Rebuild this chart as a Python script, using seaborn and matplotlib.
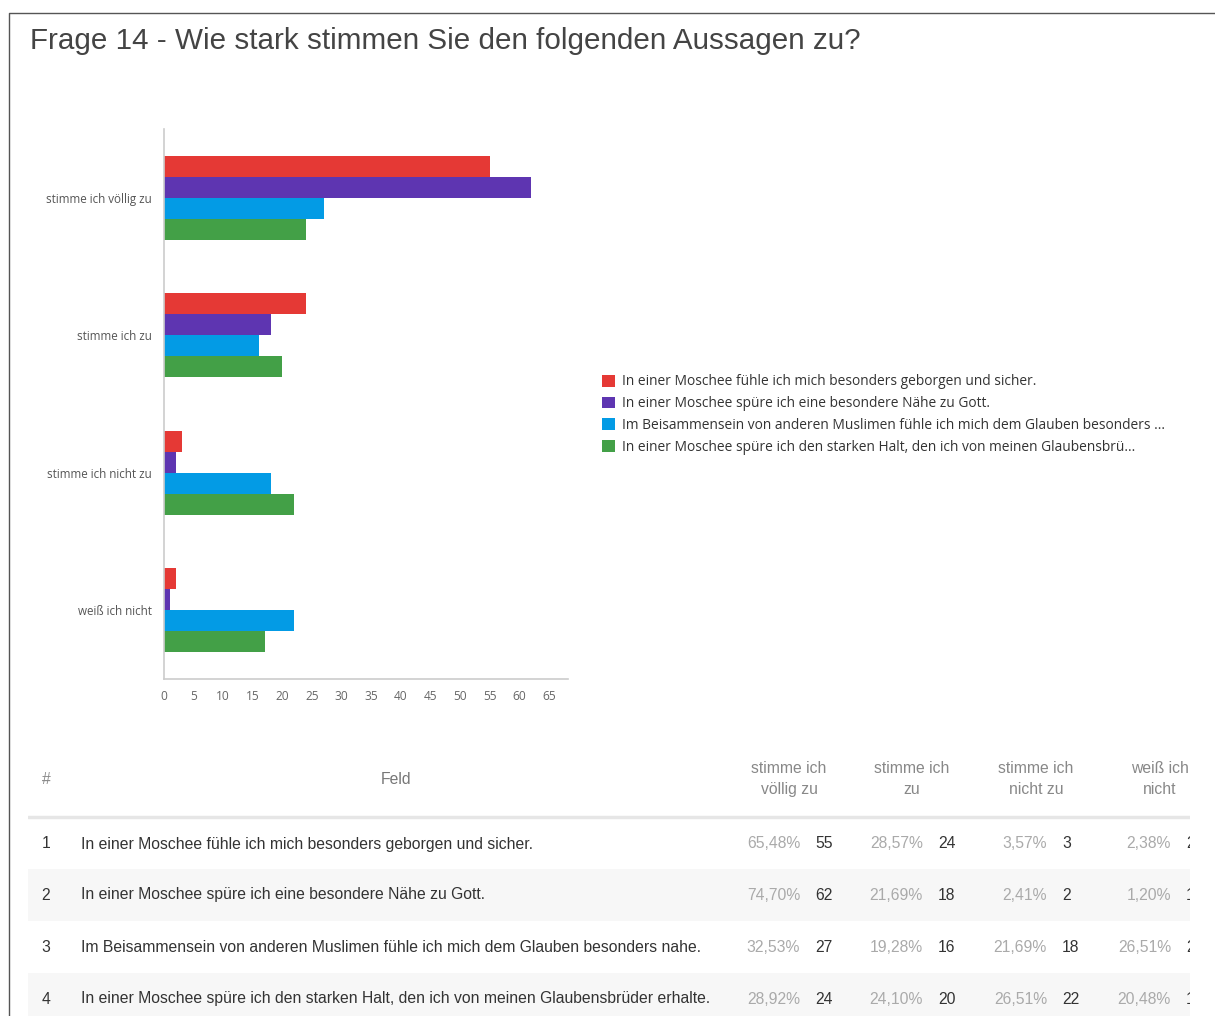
import matplotlib
matplotlib.use("Agg")
import matplotlib.pyplot as plt
from matplotlib.lines import Line2D
import seaborn as sns
import pandas as pd

# Daten
antworten = ["stimme ich völlig zu", "stimme ich zu", "stimme ich nicht zu", "weiß ich nicht"]
aussagen = [
    "In einer Moschee fühle ich mich besonders geborgen und sicher.",
    "In einer Moschee spüre ich eine besondere Nähe zu Gott.",
    "Im Beisammensein von anderen Muslimen fühle ich mich dem Glauben besonders nahe.",
    "In einer Moschee spüre ich den starken Halt, den ich von meinen Glaubensbrüder erhalte.",
]
legende = [
    "In einer Moschee fühle ich mich besonders geborgen und sicher.",
    "In einer Moschee spüre ich eine besondere Nähe zu Gott.",
    "Im Beisammensein von anderen Muslimen fühle ich mich dem Glauben besonders ...",
    "In einer Moschee spüre ich den starken Halt, den ich von meinen Glaubensbrü...",
]
geborgen = [55, 24, 3, 2]
naehe = [62, 18, 2, 1]
beisammensein = [27, 16, 18, 22]
halt = [24, 20, 22, 17]
farben = ["#E53935", "#5E35B1", "#039BE5", "#43A047"]
x_ticks = list(range(0, 70, 5))

reihen = [geborgen, naehe, beisammensein, halt]
rows = []
for name, werte in zip(legende, reihen):
    for a, w in zip(antworten, werte):
        rows.append({"Antwort": a, "Aussage": name, "Anzahl": w})
df = pd.DataFrame(rows)

sns.set_style("white")
W, H = 1215, 1016
fig = plt.figure(figsize=(W / 100, H / 100), dpi=100)
fig.patch.set_facecolor("white")

# Rahmen
fig.add_artist(Line2D([9 / W, 9 / W, 1], [0, 1 - 13 / H, 1 - 13 / H],
                      transform=fig.transFigure, color="#555555", lw=1))

fig.text(30 / W, 1 - 41 / H, "Frage 14 - Wie stark stimmen Sie den folgenden Aussagen zu?",
         fontsize=21.3, color="#444444", family="Liberation Sans", va="center", ha="left")

# Balkendiagramm
ax = fig.add_axes([164 / W, 1 - 679 / H, (568 - 164) / W, (679 - 129) / H])
sns.barplot(data=df, y="Antwort", x="Anzahl", hue="Aussage", palette=farben,
            orient="h", width=0.61, linewidth=0, saturation=1, ax=ax)
handles, labels = ax.get_legend_handles_labels()
ax.get_legend().remove()

ax.set_xlim(0, 68.2)
ax.set_ylim(3.5, -0.5)
ax.set_xticks(x_ticks)
ax.set_xlabel("")
ax.set_ylabel("")
ax.set_yticks([-0.5, 0.5, 1.5, 2.5, 3.5], minor=True)
ax.tick_params(axis="y", which="major", length=0, pad=8.5, labelsize=8.4, labelcolor="#555555")
ax.tick_params(axis="y", which="minor", length=8, width=1, color="#cccccc")
ax.tick_params(axis="x", length=0, pad=8, labelsize=8.6, labelcolor="#666666")
for lab in ax.get_yticklabels() + ax.get_xticklabels():
    lab.set_family("Open Sans")
for s in ["top", "right"]:
    ax.spines[s].set_visible(False)
for s in ["left", "bottom"]:
    ax.spines[s].set_color("#cccccc")
    ax.spines[s].set_linewidth(1.2)

leg = fig.legend(handles, labels, loc="upper left", bbox_to_anchor=(590 / W, 1 - 362 / H),
                 frameon=False, handlelength=0.95, handleheight=0.95, handletextpad=0.45,
                 labelspacing=0.5, prop={"family": "Open Sans", "size": 9.9})
for t in leg.get_texts():
    t.set_color("#333333")

# Tabelle
tx0, tx1, ty0 = 28, 1190, 745
tab = fig.add_axes([tx0 / W, 0, (tx1 - tx0) / W, (H - ty0) / H])
tab.set_xlim(tx0, tx1)
tab.set_ylim(H, ty0)
tab.axis("off")

font = "Liberation Sans"
fs = 11.3
kopf = ["stimme ich\nvöllig zu", "stimme ich\nzu", "stimme ich\nnicht zu", "weiß ich\nnicht"]
spalten_x = [789, 912, 1036, 1160]
tab.text(46, 779, "#", ha="center", va="center", fontsize=fs, color="#888888", family=font)
tab.text(396, 779, "Feld", ha="center", va="center", fontsize=fs, color="#777777", family=font)
for k, x in zip(kopf, spalten_x):
    tab.text(x, 779, k, ha="center", va="center", fontsize=fs, color="#888888",
             family=font, linespacing=1.5, clip_on=True)
tab.plot([tx0, tx1], [817, 817], color="#e6e6e6", lw=2.5)

zeilen_y = [844, 895, 947, 999]
for i, (text, werte, y) in enumerate(zip(aussagen, reihen, zeilen_y)):
    if i % 2 == 1:
        tab.fill_between([tx0, tx1], y - 26, y + 26, color="#f7f7f7", lw=0)
    gesamt = sum(werte)
    tab.text(46, y, str(i + 1), ha="center", va="center", fontsize=fs, color="#333333", family=font)
    tab.text(81, y, text, ha="left", va="center", fontsize=fs, color="#333333", family=font)
    for w, x in zip(werte, spalten_x):
        pct = f"{100 * w / gesamt:.2f}%".replace(".", ",")
        tab.text(x + 11, y, pct, ha="right", va="center", fontsize=fs, color="#aaaaaa",
                 family=font, clip_on=True)
        tab.text(x + 26, y, str(w), ha="left", va="center", fontsize=fs, color="#333333",
                 family=font, clip_on=True)

fig.savefig("out.png", dpi=100, facecolor="white")
